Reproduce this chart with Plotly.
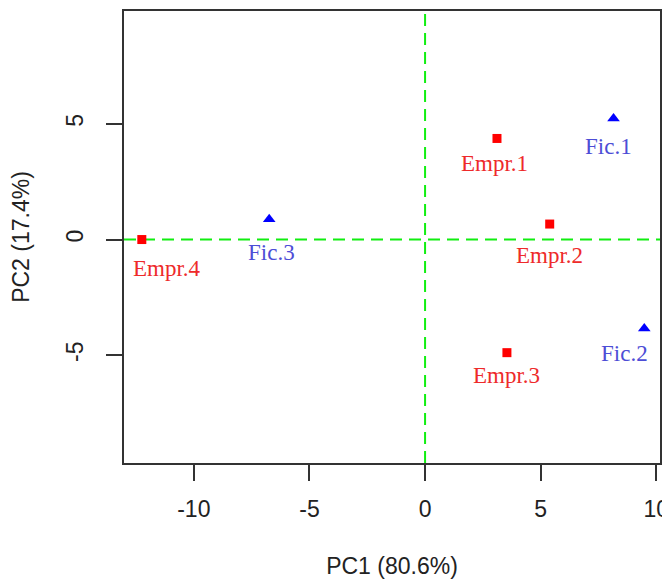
import plotly.graph_objects as go

# Data
empr_labels = ["Empr.1", "Empr.2", "Empr.3", "Empr.4"]
empr_pc1 = [3.11, 5.39, 3.54, -12.25]
empr_pc2 = [4.37, 0.67, -4.89, 0.0]

fic_labels = ["Fic.1", "Fic.2", "Fic.3"]
fic_pc1 = [8.15, 9.48, -6.74]
fic_pc2 = [5.23, -3.85, 0.88]

x_ticks = [-10, -5, 0, 5, 10]
y_ticks = [-5, 0, 5]

# label pixel offsets (style)
empr_shift = [(-2, -25), (0, -31), (0, -23), (25, -29)]
fic_shift = [(-5, -28), (-20, -25), (2, -33)]

RED = "#ff0000"
BLUE = "#0000ff"
RED_TXT = "#ee2a2a"
BLUE_TXT = "#4d4dd6"
GREEN = "#11ee11"

fig = go.Figure()

fig.add_hline(y=0, line=dict(color=GREEN, width=2, dash="12px,7px"), layer="below")
fig.add_vline(x=0, line=dict(color=GREEN, width=2, dash="12px,7px"), layer="below")

fig.add_trace(go.Scatter(x=empr_pc1, y=empr_pc2, mode="markers",
                         marker=dict(symbol="square", size=9, color=RED, line=dict(width=0)),
                         showlegend=False, cliponaxis=False))
fig.add_trace(go.Scatter(x=fic_pc1, y=fic_pc2, mode="markers",
                         marker=dict(symbol="triangle-up", size=11, color=BLUE, line=dict(width=0)),
                         showlegend=False, cliponaxis=False))

for lab, x, y, (dx, dy) in zip(empr_labels, empr_pc1, empr_pc2, empr_shift):
    fig.add_annotation(x=x, y=y, text=lab, showarrow=False, xshift=dx, yshift=dy,
                       font=dict(family="Liberation Serif", size=23, color=RED_TXT))
for lab, x, y, (dx, dy) in zip(fic_labels, fic_pc1, fic_pc2, fic_shift):
    fig.add_annotation(x=x, y=y, text=lab, showarrow=False, xshift=dx, yshift=dy,
                       font=dict(family="Liberation Serif", size=23, color=BLUE_TXT))

axis_font = dict(family="Liberation Sans", size=23, color="#222222")

fig.update_xaxes(range=[-13.02, 10.16], tickvals=x_ticks, ticktext=[str(v) for v in x_ticks],
                 showgrid=False, zeroline=False, showline=True, mirror=True,
                 linecolor="#333333", linewidth=2, ticks="outside", ticklen=16,
                 tickwidth=2, tickcolor="#333333", tickfont=axis_font,
                 ticklabelstandoff=8, ticklabeloverflow="allow",
                 title=dict(text="PC1 (80.6%)", font=axis_font, standoff=38))
fig.update_yaxes(range=[-9.66, 9.88], tickvals=y_ticks, ticktext=[str(v) for v in y_ticks],
                 showgrid=False, zeroline=False, showline=True, mirror=True,
                 linecolor="#333333", linewidth=2, ticks="outside", ticklen=16,
                 tickwidth=2, tickcolor="#333333", tickfont=axis_font, tickangle=-90,
                 ticklabelstandoff=14, ticklabeloverflow="allow",
                 title=dict(text="PC2 (17.4%)", font=axis_font, standoff=32))

# page body has an 8px default margin, so the figure is sized to fit the window
fig.update_layout(width=662, height=571,
                  margin=dict(l=116, r=7, t=1, b=116),
                  plot_bgcolor="white", paper_bgcolor="white")

fig.write_html("out.html")
